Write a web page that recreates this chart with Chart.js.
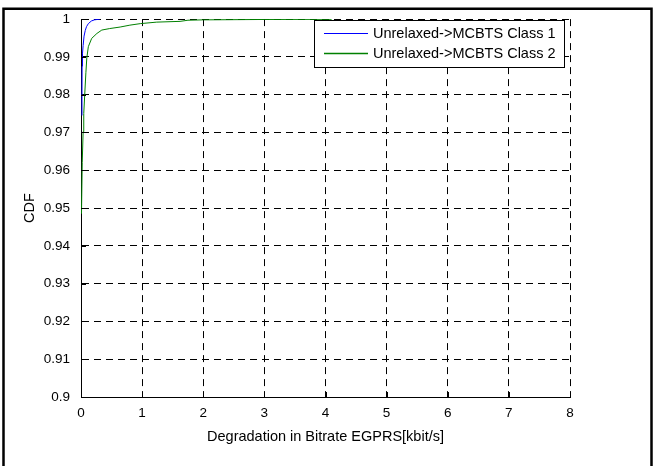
<!DOCTYPE html>
<html lang="en">
<head>
    <meta charset="UTF-8">
    <title>CDF</title>
    <script src="https://cdn.jsdelivr.net/npm/chart.js"></script>
    <style>
        html, body { margin:0; padding:0; background:#fff; }
        #box { width:654px; height:466px; position:relative; }
    </style>
</head>
<body>
    <div id="box">
        <canvas id="myChart"></canvas>
    </div>

    <script>
        // series labels
        const seriesNames = ['Unrelaxed->MCBTS Class 1', 'Unrelaxed->MCBTS Class 2'];
        const seriesColors = ['#0000ff', '#008000'];

        // Class 1 (blue)
        const class1X = [0.015, 0.016, 0.018, 0.025, 0.035, 0.05, 0.07, 0.09, 0.12, 0.17, 0.22, 0.31];
        const class1Y = [0.9745, 0.980, 0.9875, 0.991, 0.993, 0.9955, 0.997, 0.998, 0.9988, 0.9995, 0.9998, 1.0];

        // Class 2 (green)
        const class2X = [0.008, 0.02, 0.035, 0.045, 0.06, 0.08, 0.095, 0.12, 0.175, 0.26, 0.34, 0.47, 0.64, 0.8, 0.97, 1.24, 1.62, 1.75, 2.0, 3.0, 4.1];
        const class2Y = [0.9485, 0.962, 0.9702, 0.975, 0.9797, 0.9858, 0.9897, 0.9927, 0.9949, 0.9962, 0.9971, 0.9975, 0.9979, 0.9984, 0.9988, 0.9992, 0.9994, 0.9997, 0.9998, 0.9999, 0.99995];

        // axes
        const xTicks = [0, 1, 2, 3, 4, 5, 6, 7, 8];
        const yTicks = [0.9, 0.91, 0.92, 0.93, 0.94, 0.95, 0.96, 0.97, 0.98, 0.99, 1];
        const xTitle = 'Degradation in Bitrate EGPRS[kbit/s]';
        const yTitle = 'CDF';

        const FONT = '"Liberation Sans", Arial, sans-serif';
        const toPts = (xs, ys) => xs.map((x, i) => ({x: x, y: ys[i]}));

        // inward ticks + legend + outer frame
        const extras = {
            id: 'extras',
            afterDraw(chart) {
                const ctx = chart.ctx;
                const xs = chart.scales.x, ys = chart.scales.y;
                const a = chart.chartArea;
                ctx.save();
                ctx.strokeStyle = '#000';
                ctx.lineWidth = 1;
                ctx.beginPath();
                xTicks.forEach(v => {
                    const px = Math.round(xs.getPixelForValue(v)) + 0.5;
                    ctx.moveTo(px, a.bottom);
                    ctx.lineTo(px, a.bottom - 5);
                });
                yTicks.forEach(v => {
                    const py = Math.round(ys.getPixelForValue(v)) + 0.5;
                    ctx.moveTo(a.left, py);
                    ctx.lineTo(a.left + 5, py);
                });
                ctx.stroke();

                // legend
                const lx = 314.5, ly = 20.5, lw = 250, lh = 47;
                ctx.fillStyle = '#fff';
                ctx.fillRect(lx, ly, lw, lh);
                ctx.strokeStyle = '#000';
                ctx.strokeRect(lx, ly, lw, lh);
                ctx.font = '14.5px ' + FONT;
                ctx.textBaseline = 'middle';
                ctx.textAlign = 'left';
                seriesNames.forEach((name, i) => {
                    const yy = 33.5 + i * 20;
                    ctx.strokeStyle = seriesColors[i];
                    ctx.lineWidth = i === 0 ? 1 : 1.5;
                    ctx.beginPath();
                    ctx.moveTo(324, yy);
                    ctx.lineTo(368, yy);
                    ctx.stroke();
                    ctx.fillStyle = '#000';
                    ctx.fillText(name, 373, yy + 0.5);
                });

                // figure frame
                ctx.strokeStyle = '#000';
                ctx.lineWidth = 2.5;
                ctx.beginPath();
                ctx.moveTo(3.5, 470);
                ctx.lineTo(3.5, 8.7);
                ctx.lineTo(651.5, 8.7);
                ctx.lineTo(651.5, 470);
                ctx.stroke();
                ctx.restore();
            }
        };

        const ctx = document.querySelector('#myChart').getContext('2d');
        const myChart = new Chart(ctx, {
            type: 'scatter',
            data: {
                datasets: [{
                    label: seriesNames[0],
                    data: toPts(class1X, class1Y),
                    showLine: true,
                    borderColor: seriesColors[0],
                    borderWidth: 1,
                    pointRadius: 0,
                    tension: 0
                }, {
                    label: seriesNames[1],
                    data: toPts(class2X, class2Y),
                    showLine: true,
                    borderColor: seriesColors[1],
                    borderWidth: 1,
                    pointRadius: 0,
                    tension: 0
                }]
            },
            options: {
                responsive: true,
                maintainAspectRatio: false,
                animation: false,
                layout: { padding: { left: 0, top: 12, right: 84, bottom: 0 } },
                plugins: { legend: { display: false }, tooltip: { enabled: false } },
                scales: {
                    x: {
                        type: 'linear',
                        min: 0, max: 8,
                        afterBuildTicks: s => { s.ticks = xTicks.map(v => ({value: v})); },
                        afterFit: s => { s.height = 69; },
                        ticks: { color: '#000', font: { family: FONT, size: 13.5 }, padding: 8, maxRotation: 0 },
                        grid: { color: '#000', lineWidth: 1, drawTicks: false },
                        border: { display: true, color: '#000', width: 1, dash: [7, 5] },
                        title: { display: true, text: xTitle, color: '#000', font: { family: FONT, size: 14.5 }, padding: { top: 0, bottom: 20 } }
                    },
                    y: {
                        type: 'linear',
                        min: 0.9, max: 1,
                        afterBuildTicks: s => { s.ticks = yTicks.map(v => ({value: v})); },
                        afterFit: s => { s.width = 81; },
                        ticks: { color: '#000', font: { family: FONT, size: 13.5 }, padding: 11,
                            callback: v => String(Number(v.toFixed(2))) },
                        grid: { color: '#000', lineWidth: 1, drawTicks: false },
                        border: { display: true, color: '#000', width: 1, dash: [7, 5] },
                        title: { display: true, text: yTitle, color: '#000', font: { family: FONT, size: 14.5 }, padding: { top: 21, bottom: 0 } }
                    }
                }
            },
            plugins: [extras]
        });
    </script>
</body>
</html>
